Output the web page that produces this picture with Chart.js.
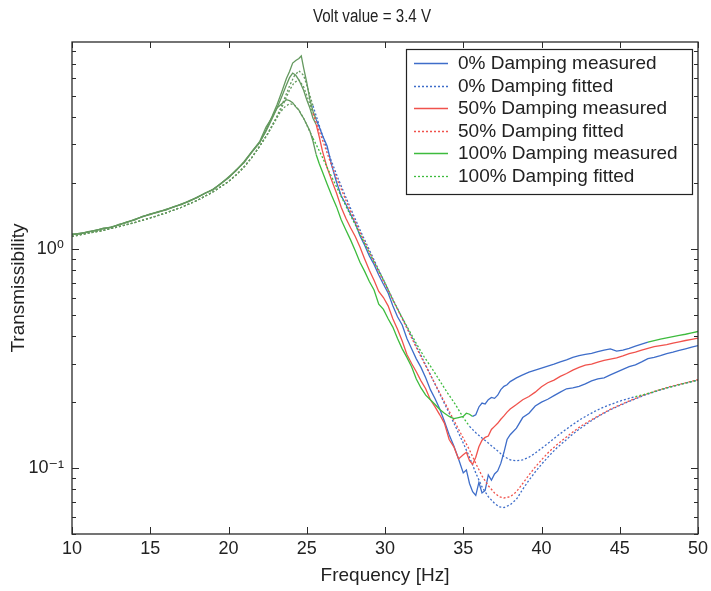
<!DOCTYPE html>
<html><head><meta charset="utf-8">
<script src="https://cdn.jsdelivr.net/npm/chart.js@4.4.0/dist/chart.umd.min.js"></script>
<style>html,body{margin:0;padding:0;background:#fff;}</style>
</head><body>
<canvas id="c" width="711" height="591"></canvas>
<script>
const titleText = 'Volt value = 3.4 V';
const xTitle = 'Frequency [Hz]';
const yTitle = 'Transmissibility';
const seriesLabels = ['0% Damping measured','0% Damping fitted','50% Damping measured','50% Damping fitted','100% Damping measured','100% Damping fitted'];
const xTicks = [10,15,20,25,30,35,40,45,50];
const yMajorTicks = [0.1, 1];
const yMinorTicks = [0.05,0.06,0.07,0.08,0.09,0.2,0.3,0.4,0.5,0.6,0.7,0.8,0.9,2,3,4,5,6,7,8];

const measFreq = [10,10.5,11,11.5,12,12.5,13,13.5,14,14.5,15,15.5,16,16.5,17,17.5,18,18.5,19,19.5,20,20.5,21,21.5,22,
 22.4,22.8,23.1,23.4,23.7,23.9,24.1,24.3,24.5,24.65,24.8,25,25.2,25.4,25.6,25.8,
 26,26.3,26.6,26.9,27.2,27.5,27.8,28.1,28.4,28.7,29,29.3,29.6,29.9,30.2,30.5,30.8,31.1,31.4,31.7,32,32.3,32.6,32.9,33.2,33.5,33.8,34.1,34.4,34.7,
 35,35.2,35.4,35.6,35.8,36,36.2,36.4,36.6,36.8,37,37.2,37.4,37.6,37.8,38,
 38.4,38.8,39.2,39.6,40,40.4,40.8,41.2,41.6,42,42.4,42.8,43.2,43.6,44,44.4,44.8,45.2,45.6,46,46.4,46.8,47.2,47.6,48,48.4,48.8,49.2,49.6,50];

const meas0 = [1.16,1.18,1.19,1.22,1.235,1.26,1.285,1.33,1.355,1.41,1.435,1.48,1.505,1.56,1.595,1.66,1.715,1.80,1.86,1.99,2.11,2.30,2.48,2.78,3.06,
 3.50,4.05,4.55,5.20,6.00,6.45,7.05,7.25,7.40,7.60,6.70,5.75,4.80,4.25,3.90,3.60,
 3.30,2.95,2.40,2.02,1.75,1.60,1.44,1.31,1.15,1.04,0.93,0.85,0.76,0.69,0.63,0.55,0.49,0.45,0.39,0.35,0.315,0.288,0.258,0.228,0.207,0.186,0.163,0.142,0.126,0.11,
 0.095,0.098,0.085,0.078,0.075,0.086,0.077,0.079,0.093,0.088,0.094,0.097,0.105,0.118,0.135,0.142,
 0.152,0.17,0.178,0.192,0.2,0.206,0.214,0.222,0.23,0.232,0.236,0.242,0.25,0.255,0.258,0.266,0.274,0.282,0.29,0.296,0.305,0.316,0.32,0.326,0.333,0.338,0.344,0.35,0.356,0.362];

const meas50 = [1.165,1.175,1.195,1.215,1.24,1.255,1.29,1.325,1.36,1.405,1.44,1.475,1.51,1.555,1.60,1.655,1.72,1.795,1.865,1.985,2.12,2.29,2.49,2.77,3.07,
 3.45,3.95,4.40,4.95,5.60,6.05,6.35,6.20,5.90,5.60,5.30,4.80,4.40,3.95,3.70,3.25,
 2.80,2.35,2.05,1.80,1.55,1.38,1.25,1.14,1.02,0.90,0.80,0.72,0.64,0.60,0.55,0.48,0.43,0.38,0.33,0.30,0.275,0.25,0.23,0.205,0.19,0.175,0.16,0.135,0.125,0.11,
 0.115,0.118,0.108,0.104,0.112,0.125,0.134,0.138,0.14,0.15,0.155,0.16,0.167,0.173,0.18,0.186,
 0.195,0.205,0.212,0.222,0.235,0.245,0.252,0.262,0.27,0.28,0.288,0.295,0.298,0.304,0.31,0.314,0.318,0.325,0.333,0.338,0.345,0.352,0.358,0.362,0.366,0.372,0.377,0.382,0.387,0.392];

const meas100 = [1.17,1.17,1.20,1.21,1.245,1.25,1.295,1.32,1.365,1.40,1.445,1.47,1.515,1.55,1.605,1.65,1.725,1.79,1.87,1.98,2.13,2.28,2.51,2.79,3.10,
 3.6,4.0,4.4,4.6,4.8,4.75,4.65,4.45,4.3,4.1,3.95,3.7,3.45,3.1,2.7,2.45,
 2.25,1.98,1.75,1.56,1.36,1.22,1.10,0.98,0.87,0.79,0.71,0.65,0.56,0.53,0.48,0.44,0.39,0.35,0.32,0.29,0.255,0.232,0.215,0.205,0.195,0.185,0.178,0.172,0.168,0.17,
 0.172,0.178,0.176,0.172,0.175,0.19,0.198,0.196,0.205,0.21,0.208,0.215,0.228,0.236,0.24,0.248,
 0.258,0.266,0.274,0.28,0.286,0.292,0.298,0.305,0.312,0.32,0.326,0.33,0.334,0.34,0.345,0.35,0.342,0.345,0.352,0.36,0.368,0.376,0.382,0.388,0.393,0.398,0.403,0.408,0.414,0.42];

const fitFreq = [10,11,12,13,14,15,16,17,18,19,20,20.5,21,21.5,22,22.5,
 23,23.3,23.6,23.9,24.2,24.5,24.8,25.1,25.4,25.7,26,
 26.5,27,27.5,28,28.5,29,29.5,30,30.5,31,31.5,32,32.5,33,33.5,34,34.5,35,
 35.4,35.8,36.2,36.6,37,37.3,37.6,38,38.4,38.8,39.2,39.6,40,
 40.5,41,41.5,42,42.5,43,43.5,44,44.5,45,45.5,46,46.5,47,47.5,48,48.5,49,49.5,50];

const fit0 = [1.14,1.18,1.215,1.265,1.32,1.385,1.46,1.55,1.665,1.82,2.03,2.18,2.37,2.62,2.95,3.35,
 3.9,4.35,4.9,5.55,6.15,6.5,6.2,5.3,4.5,3.85,3.3,
 2.6,2.1,1.72,1.42,1.18,0.99,0.83,0.70,0.59,0.50,0.425,0.36,0.305,0.258,0.218,0.184,0.155,0.13,
 0.112,0.095,0.082,0.074,0.069,0.0665,0.066,0.068,0.072,0.08,0.088,0.096,0.104,
 0.114,0.124,0.133,0.143,0.152,0.161,0.17,0.178,0.186,0.193,0.2,0.207,0.214,0.22,0.226,0.232,0.237,0.242,0.247,0.252];

const fit50 = [1.14,1.18,1.215,1.265,1.32,1.385,1.46,1.55,1.665,1.82,2.03,2.18,2.37,2.62,2.95,3.35,
 3.85,4.25,4.75,5.3,5.75,5.9,5.5,4.8,4.15,3.6,3.15,
 2.5,2.03,1.67,1.38,1.15,0.97,0.815,0.69,0.585,0.497,0.42,0.355,0.302,0.258,0.22,0.188,0.16,0.137,
 0.121,0.105,0.092,0.083,0.077,0.074,0.073,0.074,0.078,0.085,0.093,0.101,0.109,
 0.119,0.128,0.137,0.146,0.155,0.163,0.171,0.179,0.187,0.194,0.201,0.208,0.215,0.221,0.227,0.233,0.238,0.243,0.248,0.253];

const fit100 = [1.14,1.18,1.215,1.265,1.32,1.385,1.46,1.55,1.665,1.82,2.03,2.18,2.37,2.62,2.95,3.35,
 3.9,4.2,4.45,4.6,4.55,4.3,3.95,3.55,3.2,2.9,2.62,
 2.2,1.86,1.57,1.33,1.13,0.96,0.82,0.70,0.585,0.50,0.43,0.37,0.322,0.285,0.25,0.22,0.195,0.17,
 0.155,0.145,0.137,0.13,0.123,0.118,0.113,0.109,0.108,0.109,0.112,0.117,0.123,
 0.131,0.14,0.149,0.158,0.167,0.175,0.183,0.19,0.196,0.202,0.207,0.212,0.216,0.221,0.227,0.232,0.237,0.242,0.247,0.252];

const BLUE = '#3e6dc9', RED = '#f0524c', GREEN = '#3dbb3d', OLIVE = '#64995f';
const FONT = "'Liberation Sans', Arial, 'DejaVu Sans', sans-serif";

function pts(xs, ys){ return xs.map((x,i)=>({x:x, y:ys[i]})); }

function segColorFn(base, blueFrom, blueTo){
  return ctx => {
    const x0 = ctx.p0.parsed.x, x1 = ctx.p1.parsed.x;
    if (x1 <= 25.6) return OLIVE;
    if (blueFrom !== undefined && x0 >= blueFrom && x1 <= blueTo) return BLUE;
    return base;
  };
}

const seriesDefs = [
  {data: pts(measFreq, meas0),  color: BLUE,  dash: [],    order: 5},
  {data: pts(fitFreq, fit0),    color: BLUE,  dash: [2,2], order: 4},
  {data: pts(measFreq, meas50), color: RED,   dash: [],    order: 3},
  {data: pts(fitFreq, fit50),   color: RED,   dash: [2,2], order: 2},
  {data: pts(measFreq, meas100),color: GREEN, dash: [],    order: 1, bf: 35.5, bt: 46.8},
  {data: pts(fitFreq, fit100),  color: GREEN, dash: [2,2], order: 0, bf: 35.4, bt: 46.3}
];

const datasets = seriesDefs.map((s,i)=>({
  label: seriesLabels[i],
  data: s.data,
  borderColor: s.color,
  borderWidth: 1.3,
  borderDash: s.dash,
  pointRadius: 0,
  tension: 0,
  fill: false,
  order: s.order,
  segment: { borderColor: segColorFn(s.color, s.bf, s.bt) }
}));

const framePlugin = {
  id: 'frame',
  afterDatasetsDraw(chart){
    const {ctx, chartArea: a, scales: {x, y}} = chart;
    ctx.save();
    ctx.strokeStyle = '#2a2a2a';
    ctx.lineWidth = 1.3;
    ctx.strokeRect(a.left, a.top, a.right - a.left, a.bottom - a.top);
    ctx.beginPath();
    xTicks.forEach(v => {
      const px = Math.round(x.getPixelForValue(v)) + 0.5;
      ctx.moveTo(px, a.bottom); ctx.lineTo(px, a.bottom - 7);
      ctx.moveTo(px, a.top); ctx.lineTo(px, a.top + 6);
    });
    yMajorTicks.forEach(v => {
      const py = Math.round(y.getPixelForValue(v)) + 0.5;
      ctx.moveTo(a.left, py); ctx.lineTo(a.left + 7, py);
      ctx.moveTo(a.right, py); ctx.lineTo(a.right - 7, py);
    });
    yMinorTicks.forEach(v => {
      const py = Math.round(y.getPixelForValue(v)) + 0.5;
      ctx.moveTo(a.left, py); ctx.lineTo(a.left + 4, py);
      ctx.moveTo(a.right, py); ctx.lineTo(a.right - 4, py);
    });
    ctx.lineWidth = 1;
    ctx.stroke();
    ctx.restore();
  },
  afterDraw(chart){
    const ctx = chart.ctx;
    ctx.save();
    ctx.fillStyle = '#222';
    ctx.font = '18px ' + FONT;
    ctx.textAlign = 'center';
    ctx.textBaseline = 'middle';
    ctx.translate(372, 17);
    ctx.scale(0.84, 1);
    ctx.fillText(titleText, 0, 0);
    ctx.restore();
    ctx.save();
    const bx = 406, by = 49, bw = 286, bh = 145;
    ctx.fillStyle = '#fff';
    ctx.fillRect(bx, by, bw, bh);
    ctx.strokeStyle = '#222';
    ctx.lineWidth = 1.2;
    ctx.strokeRect(bx + 0.5, by + 0.5, bw, bh);
    ctx.font = '19px ' + FONT;
    ctx.textAlign = 'left';
    ctx.textBaseline = 'middle';
    seriesDefs.forEach((s, i) => {
      const cy = 63 + i * 22.5;
      ctx.beginPath();
      ctx.strokeStyle = s.color;
      ctx.lineWidth = 1.3;
      ctx.setLineDash(s.dash);
      ctx.moveTo(414, Math.round(cy) + 0.5);
      ctx.lineTo(448, Math.round(cy) + 0.5);
      ctx.stroke();
      ctx.setLineDash([]);
      ctx.fillStyle = '#222';
      ctx.fillText(seriesLabels[i], 458, cy + 1);
    });
    ctx.restore();
  }
};

new Chart(document.getElementById('c'), {
  type: 'line',
  data: { datasets },
  options: {
    responsive: false,
    animation: false,
    devicePixelRatio: 1,
    layout: { padding: { top: 42, right: 13, left: 0, bottom: 0 } },
    plugins: { legend: { display: false }, tooltip: { enabled: false }, title: { display: false } },
    scales: {
      x: {
        type: 'linear', min: 10, max: 50,
        afterBuildTicks(s){ s.ticks = xTicks.map(v => ({value: v})); },
        ticks: { font: { size: 18, family: FONT }, color: '#222', padding: 4, maxRotation: 0, autoSkip: false,
                 callback: v => String(v) },
        grid: { display: false, drawTicks: false },
        border: { display: false },
        title: { display: true, text: xTitle, font: { size: 19, family: FONT }, color: '#222', padding: { top: 0, bottom: 4 } },
        afterFit(s){ s.height = 57; s.paddingLeft = 0; s.paddingRight = 0; }
      },
      y: {
        type: 'logarithmic', min: 0.05, max: 8.8,
        afterBuildTicks(s){ s.ticks = yMinorTicks.concat(yMajorTicks).sort((a,b)=>a-b).map(v => ({value: v})); },
        ticks: { font: { size: 18, family: FONT }, color: '#222', padding: 8, autoSkip: false,
                 callback: v => (Math.abs(v - 1) < 1e-9 ? '10\u2070' : (Math.abs(v - 0.1) < 1e-9 ? '10\u207B\u00B9' : '')) },
        grid: { display: false, drawTicks: false },
        border: { display: false },
        title: { display: true, text: yTitle, font: { size: 19, family: FONT }, color: '#222', padding: { top: 7, bottom: 0 } },
        afterFit(s){ s.width = 72; s.paddingTop = 0; s.paddingBottom = 0; }
      }
    }
  },
  plugins: [framePlugin]
});
</script>
</body></html>
